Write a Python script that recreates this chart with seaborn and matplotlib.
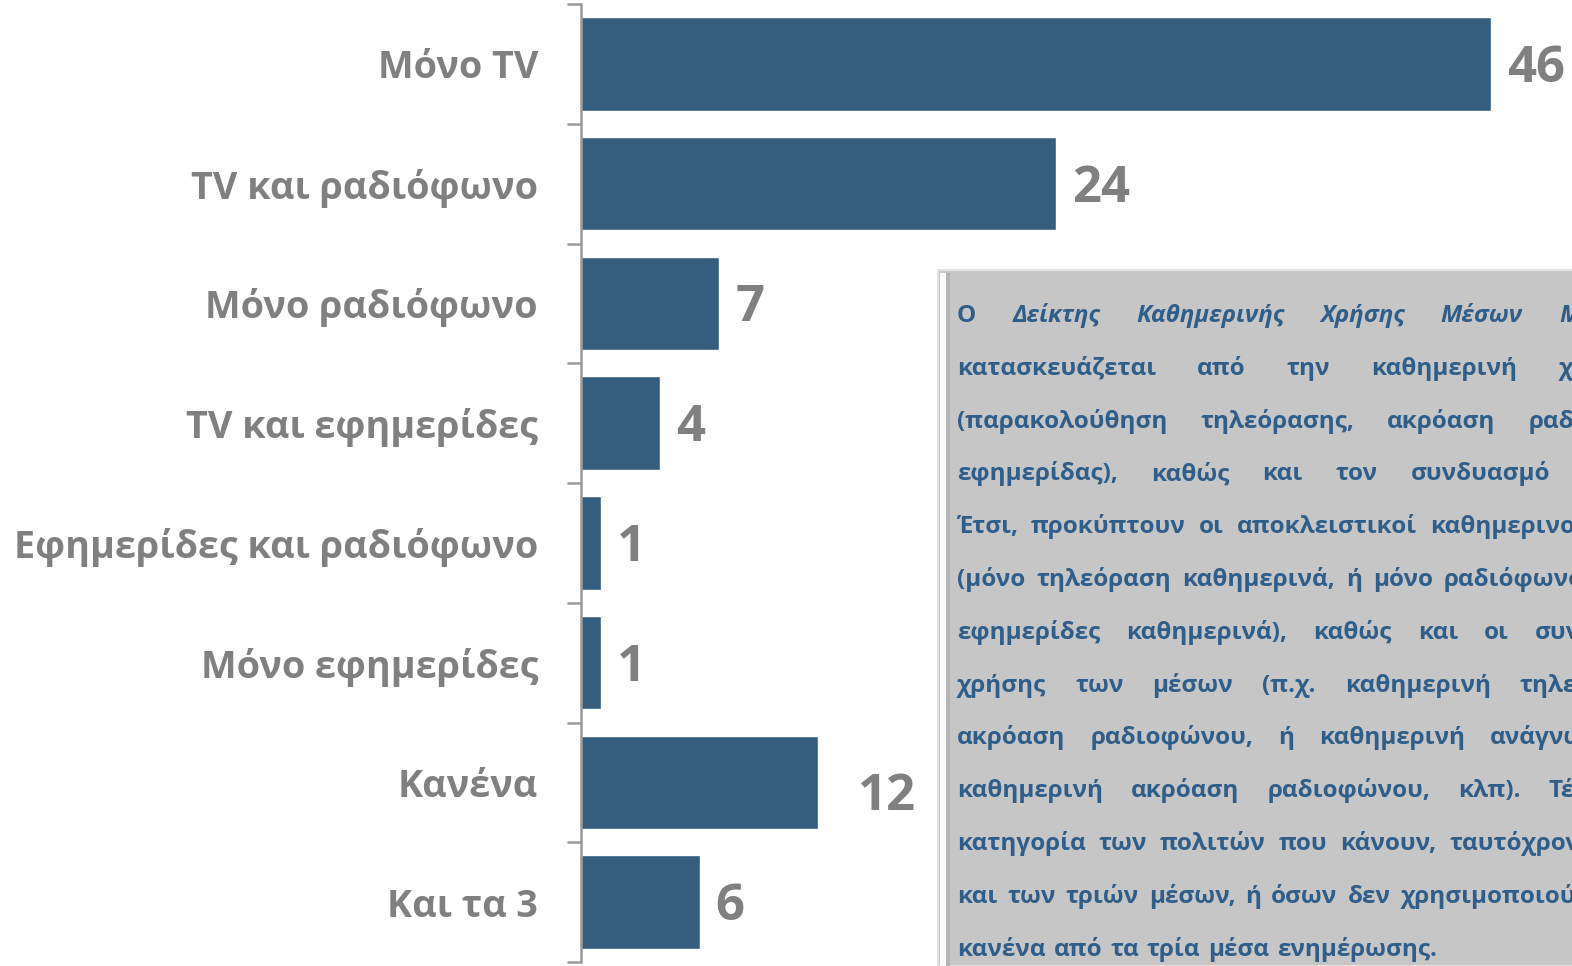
import numpy as np
import matplotlib
matplotlib.use("Agg")
import matplotlib.pyplot as plt
import seaborn as sns
from matplotlib.patches import Rectangle

# data
categories = ["Μόνο TV", "TV και ραδιόφωνο", "Μόνο ραδιόφωνο", "TV και εφημερίδες",
              "Εφημερίδες και ραδιόφωνο", "Μόνο εφημερίδες", "Κανένα", "Και τα 3"]
values = [46, 24, 7, 4, 1, 1, 12, 6]

# box text: (words, gap between words in px). "*" marks italic words
box_lines = [
    (["Ο", "*Δείκτης", "*Καθημερινής", "*Χρήσης", "*Μέσων", "*Μαζικής"], 36),
    (["κατασκευάζεται", "από", "την", "καθημερινή", "χρήση"], 41),
    (["(παρακολούθηση", "τηλεόρασης,", "ακρόαση", "ραδιοφώνου,"], 33),
    (["εφημερίδας),", "καθώς", "και", "τον", "συνδυασμό", "τους."], 33),
    (["Έτσι,", "προκύπτουν", "οι", "αποκλειστικοί", "καθημερινοί", "χρήστες"], 13),
    (["(μόνο", "τηλεόραση", "καθημερινά,", "ή", "μόνο", "ραδιόφωνο", "καθημερινά,"], 11),
    (["εφημερίδες", "καθημερινά),", "καθώς", "και", "οι", "συνδυασμοί"], 26),
    (["χρήσης", "των", "μέσων", "(π.χ.", "καθημερινή", "τηλεθέαση"], 29),
    (["ακρόαση", "ραδιοφώνου,", "ή", "καθημερινή", "ανάγνωση"], 25),
    (["καθημερινή", "ακρόαση", "ραδιοφώνου,", "κλπ).", "Τέλος,"], 28),
    (["κατηγορία", "των", "πολιτών", "που", "κάνουν,", "ταυτόχρονα,"], 13),
    (["και", "των", "τριών", "μέσων,", "ή", "όσων", "δεν", "χρησιμοποιούν"], 10),
    (["κανένα", "από", "τα", "τρία", "μέσα", "ενημέρωσης."], 8),
]

W, H = 1572, 966
FONT = ["Open Sans", "DejaVu Sans"]
BAR = "#355E7E"
GREY = "#808080"
BLUE = "#2F5E8A"

sns.set_theme(style="white")
plt.rcParams["font.family"] = FONT

fig = plt.figure(figsize=(W / 100, H / 100), dpi=100)
renderer = fig.canvas.get_renderer()


def text_width(text, size, style="normal"):
    t = fig.text(0, 0, text, fontsize=size, fontweight="bold", fontstyle=style)
    w = t.get_window_extent(renderer).width
    t.remove()
    return w


def fit_size(text, target_px, style="normal"):
    return 20 * target_px / text_width(text, 20, style)


ax = fig.add_axes([581 / W, 4 / H, (W - 581) / W, 958 / H])
sns.barplot(x=values, y=categories, orient="h", color=BAR, saturation=1,
            width=0.78, ax=ax)
ax.set_xlim(0, 50.1)
ax.set_xlabel("")
ax.set_ylabel("")
ax.set_xticks([])
for s in ["top", "right", "bottom"]:
    ax.spines[s].set_visible(False)
ax.spines["left"].set_color("#9A9A9A")
ax.spines["left"].set_linewidth(1.8)

# boundary ticks between categories
ax.set_yticks(np.arange(-0.5, len(categories), 1), minor=True)
ax.tick_params(axis="y", which="minor", length=10, width=1.8, color="#9A9A9A", left=True)
lab_size = fit_size("Εφημερίδες και ραδιόφωνο", 524)
ax.tick_params(axis="y", which="major", length=0, pad=31, labelsize=lab_size,
               labelcolor=GREY)
for lab in ax.get_yticklabels():
    lab.set_fontweight("bold")

# value labels
val_size = fit_size("24", 58)
shift = {6: (40, -15)}
for i, v in enumerate(values):
    dx, dy = shift.get(i, (16, -5))
    ax.annotate(str(v), xy=(v, i), xytext=(dx * 0.72, dy * 0.72),
                textcoords="offset points", ha="left", va="center",
                fontsize=val_size, fontweight="bold", color=GREY,
                annotation_clip=False)

# text box
fig.patches.append(Rectangle((938 / W, 0), 1, 1 - 270 / H, transform=fig.transFigure,
                             facecolor="#C6C6C6", edgecolor="#E2E2E2", lw=1.5, zorder=3))
fig.patches.append(Rectangle((940 / W, 0), 6 / W, 1 - 273 / H, transform=fig.transFigure,
                             facecolor="#FAFAFA", edgecolor="none", zorder=3))
fig.patches.append(Rectangle((946 / W, 0), 4 / W, 1 - 273 / H, transform=fig.transFigure,
                             facecolor="#B4B4B4", edgecolor="none", zorder=3))

box_size = fit_size("κατασκευάζεται", 199)
for k, (words, gap) in enumerate(box_lines):
    y = 1 - (322 + 52.8 * k) / H
    x = 957
    for w in words:
        style = "italic" if w.startswith("*") else "normal"
        w = w.lstrip("*")
        fig.text(x / W, y, w, fontsize=box_size, fontweight="bold", fontstyle=style,
                 color=BLUE, va="baseline", ha="left", zorder=4)
        x += text_width(w, box_size, style) + gap

fig.savefig("out.png", dpi=100)
